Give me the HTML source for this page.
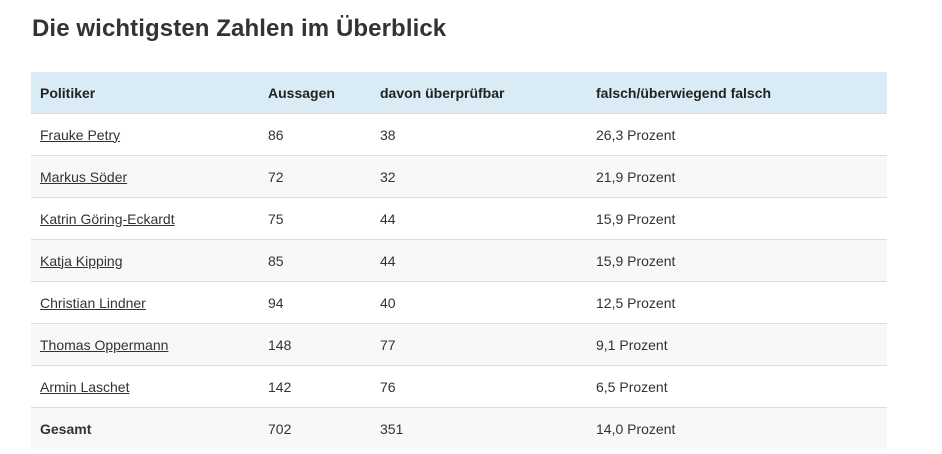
<!DOCTYPE html>
<html><head><meta charset="utf-8"><style>
body{margin:0;background:#fff;width:942px;height:454px;overflow:hidden;font-family:"Liberation Sans",sans-serif;color:#333}
h2{position:absolute;left:32px;top:15px;margin:0;font-size:24px;font-weight:bold;color:#333;letter-spacing:0.1px}
table{position:absolute;left:31px;top:72px;width:856px;border-collapse:collapse;font-size:14px}
th{background:#d9ecf5;text-align:left;font-weight:bold;height:41px;padding:0 0 0 9px;color:#222}
td{height:41px;padding:0 0 0 9px;border-top:1px solid #ddd;color:#333}
tr:nth-child(even) td{background:#f8f8f8}
a{color:#333;text-decoration:underline}
</style></head><body>
<h2>Die wichtigsten Zahlen im Überblick</h2>
<table>
<thead><tr>
<th style="width:219px">Politiker</th>
<th style="width:103px">Aussagen</th>
<th style="width:207px">davon überprüfbar</th>
<th>falsch/überwiegend falsch</th></tr></thead>
<tbody>
<tr><td><a href="#">Frauke Petry</a></td><td>86</td><td>38</td><td>26,3 Prozent</td></tr>
<tr><td><a href="#">Markus Söder</a></td><td>72</td><td>32</td><td>21,9 Prozent</td></tr>
<tr><td><a href="#">Katrin Göring-Eckardt</a></td><td>75</td><td>44</td><td>15,9 Prozent</td></tr>
<tr><td><a href="#">Katja Kipping</a></td><td>85</td><td>44</td><td>15,9 Prozent</td></tr>
<tr><td><a href="#">Christian Lindner</a></td><td>94</td><td>40</td><td>12,5 Prozent</td></tr>
<tr><td><a href="#">Thomas Oppermann</a></td><td>148</td><td>77</td><td>9,1 Prozent</td></tr>
<tr><td><a href="#">Armin Laschet</a></td><td>142</td><td>76</td><td>6,5 Prozent</td></tr>
<tr><td><b>Gesamt</b></td><td>702</td><td>351</td><td>14,0 Prozent</td></tr>
</tbody></table>
</body></html>
